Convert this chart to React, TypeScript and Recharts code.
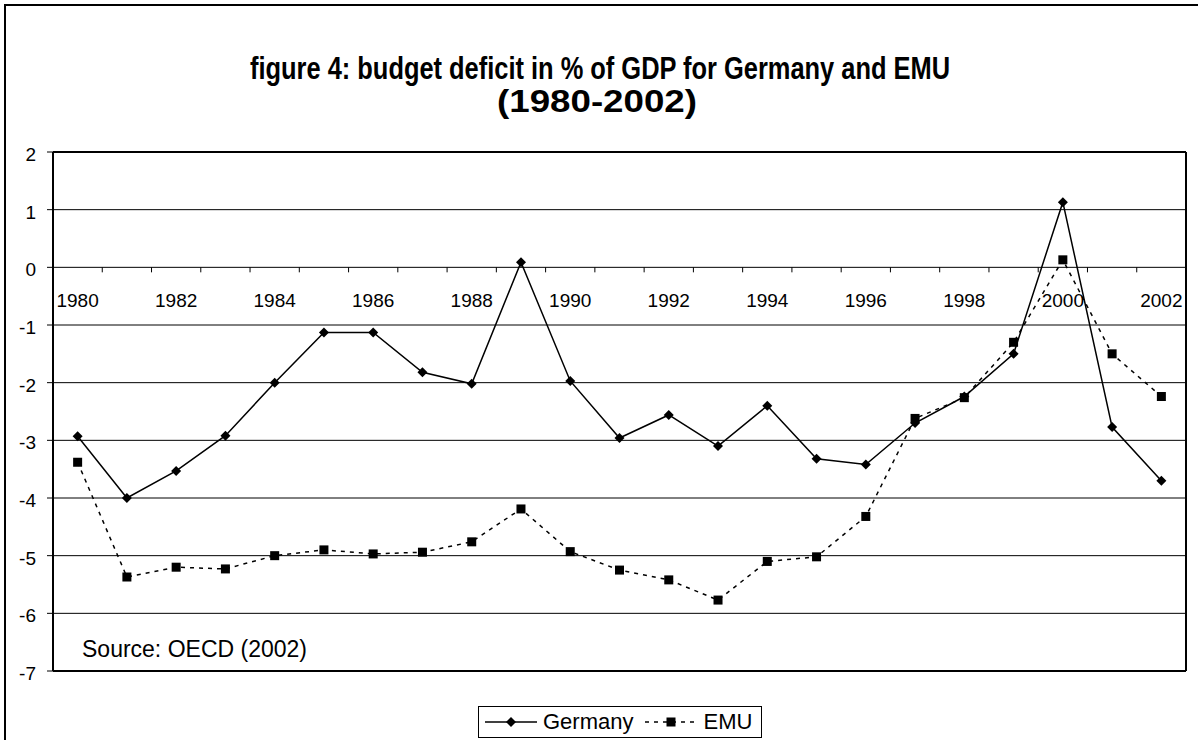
import { ComposedChart, Line, XAxis, YAxis, CartesianGrid, Legend } from 'recharts';

const years = [
  '1980', '1981', '1982', '1983', '1984', '1985', '1986', '1987', '1988', '1989', '1990', '1991',
  '1992', '1993', '1994', '1995', '1996', '1997', '1998', '1999', '2000', '2001', '2002',
];
const germany = [
  -2.93, -4.0, -3.53, -2.92, -2.0, -1.13, -1.13, -1.82, -2.02, 0.09, -1.97, -2.96,
  -2.56, -3.1, -2.4, -3.32, -3.42, -2.7, -2.24, -1.5, 1.13, -2.77, -3.7,
];
const emu = [
  -3.38, -5.37, -5.2, -5.23, -5.0, -4.9, -4.97, -4.94, -4.76, -4.19, -4.93, -5.25,
  -5.42, -5.77, -5.1, -5.02, -4.32, -2.62, -2.26, -1.3, 0.13, -1.5, -2.24,
];
const yTicks = [-7, -6, -5, -4, -3, -2, -1, 0, 1, 2];
const legendOrder = ['Germany', 'EMU'];

const FONT = '"Liberation Sans", Arial, Helvetica, sans-serif';
const W = 1198;
const H = 740;
const MARGIN = { top: 152, right: 12, bottom: 68, left: 0 };
const Y_AXIS_W = 53;
const Y_MIN = -7;
const Y_MAX = 2;
const PLOT_LEFT = MARGIN.left + Y_AXIS_W;
const PLOT_W = W - MARGIN.left - MARGIN.right - Y_AXIS_W;
const PLOT_H = H - MARGIN.top - MARGIN.bottom - 1;
const ZERO_Y = MARGIN.top + (Y_MAX / (Y_MAX - Y_MIN)) * PLOT_H;
const BAND = PLOT_W / years.length;

const data = years.map((year, i) => ({ year, germany: germany[i], emu: emu[i] }));

// category axis drawn across the zero line, like the Excel original
const XTick = (props: any) => {
  const { x, payload, index } = props;
  const left = x - BAND / 2;
  return (
    <g>
      <line x1={left} x2={left} y1={ZERO_Y} y2={ZERO_Y + 5} stroke="#000" strokeWidth={1} />
      {index % 2 === 0 && (
        <text x={x} y={ZERO_Y + 40} textAnchor="middle" fontSize={19} fontFamily={FONT} fill="#000">
          {payload.value}
        </text>
      )}
    </g>
  );
};

const YTick = (props: any) => {
  const { x, y, payload } = props;
  return (
    <text x={x} y={y} dy={9} textAnchor="end" fontSize={19} fontFamily={FONT} fill="#000">
      {payload.value}
    </text>
  );
};

const Diamond = (props: any) => {
  const { cx, cy, index } = props;
  if (cx == null || cy == null) return <g key={`dg-${index}`} />;
  const r = 5;
  return (
    <path
      key={`dg-${index}`}
      d={`M${cx},${cy - r}L${cx + r},${cy}L${cx},${cy + r}L${cx - r},${cy}Z`}
      fill="#000"
    />
  );
};

const Square = (props: any) => {
  const { cx, cy, index } = props;
  if (cx == null || cy == null) return <g key={`se-${index}`} />;
  return <rect key={`se-${index}`} x={cx - 4.5} y={cy - 4.5} width={9} height={9} fill="#000" />;
};

const LegendBox = (props: any) => {
  const items = [...(props.payload || [])].sort(
    (a: any, b: any) => legendOrder.indexOf(a.value) - legendOrder.indexOf(b.value),
  );
  return (
    <div
      style={{
        border: '1px solid #000',
        background: '#fff',
        height: 32,
        boxSizing: 'border-box',
        display: 'flex',
        alignItems: 'center',
        fontFamily: FONT,
        fontSize: 22,
        color: '#000',
        paddingLeft: 6,
      }}
    >
      {items.map((item: any) => {
        const dashed = item.value === 'EMU';
        return (
          <span key={item.value} style={{ display: 'flex', alignItems: 'center', marginRight: 12 }}>
            <svg width={52} height={16} style={{ marginRight: 6 }}>
              <line
                x1={0}
                x2={52}
                y1={8}
                y2={8}
                stroke="#000"
                strokeWidth={1.5}
                strokeDasharray={dashed ? '4 5' : undefined}
              />
              {dashed ? (
                <rect x={21.5} y={3.5} width={9} height={9} fill="#000" />
              ) : (
                <path d="M26,3L31,8L26,13L21,8Z" fill="#000" />
              )}
            </svg>
            {item.value}
          </span>
        );
      })}
    </div>
  );
};

export default function App() {
  return (
    <div style={{ position: 'absolute', left: 0, top: 0, width: W, height: H, overflow: 'hidden', background: '#fff' }}>
      <div
        style={{
          position: 'absolute',
          left: 4,
          top: 4,
          width: W + 20,
          height: H + 20,
          borderLeft: '2px solid #000',
          borderTop: '2px solid #000',
        }}
      />
      <svg width={W} height={H} style={{ position: 'absolute', left: 0, top: 0 }}>
        <text
          x={600}
          y={79}
          textAnchor="middle"
          fontFamily={FONT}
          fontWeight="bold"
          fontSize={31}
          textLength={700}
          lengthAdjust="spacingAndGlyphs"
          fill="#000"
        >
          figure 4: budget deficit in % of GDP for Germany and EMU
        </text>
        <text
          x={597}
          y={112}
          textAnchor="middle"
          fontFamily={FONT}
          fontWeight="bold"
          fontSize={31}
          textLength={200}
          lengthAdjust="spacingAndGlyphs"
          fill="#000"
        >
          (1980-2002)
        </text>
        <text x={82} y={657} fontFamily={FONT} fontSize={23} fill="#000">
          Source: OECD (2002)
        </text>
      </svg>
      <div style={{ position: 'absolute', left: 0, top: 0 }}>
        <ComposedChart width={W} height={H} data={data} margin={MARGIN} style={{ fontFamily: FONT }}>
          <CartesianGrid vertical={false} stroke="#000" strokeWidth={1} />
          {/* plot area frame */}
          <CartesianGrid
            stroke="#000"
            strokeWidth={2}
            horizontalPoints={[MARGIN.top, MARGIN.top + PLOT_H]}
            verticalPoints={[PLOT_LEFT, PLOT_LEFT + PLOT_W]}
          />
          <XAxis
            dataKey="year"
            interval={0}
            axisLine={false}
            tickLine={false}
            height={1}
            padding={{ left: BAND / 2, right: BAND / 2 }}
            tick={<XTick />}
          />
          <YAxis
            width={Y_AXIS_W}
            domain={[Y_MIN, Y_MAX]}
            ticks={yTicks}
            interval={0}
            axisLine={{ stroke: '#000', strokeWidth: 2 }}
            tickLine={{ stroke: '#000', strokeWidth: 1 }}
            tickSize={6}
            tickMargin={11}
            tick={<YTick />}
          />
          <Legend
            layout="horizontal"
            verticalAlign="middle"
            align="center"
            wrapperStyle={{ left: 478, top: 706, width: 284 }}
            content={<LegendBox />}
          />
          <Line
            type="linear"
            dataKey="germany"
            name="Germany"
            stroke="#000"
            strokeWidth={1.5}
            dot={Diamond}
            activeDot={false}
            isAnimationActive={false}
          />
          <Line
            type="linear"
            dataKey="emu"
            name="EMU"
            stroke="#000"
            strokeWidth={1.5}
            strokeDasharray="4 5"
            dot={Square}
            activeDot={false}
            isAnimationActive={false}
          />
        </ComposedChart>
      </div>
    </div>
  );
}
